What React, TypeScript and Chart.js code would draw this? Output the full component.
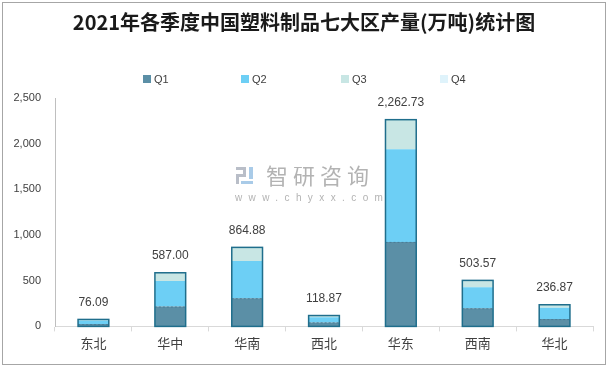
import React, { useEffect, useRef } from "react";
import { Chart, registerables } from "chart.js";

Chart.register(...registerables);

const TITLE = "2021年各季度中国塑料制品七大区产量(万吨)统计图";
const regions = ["东北", "华中", "华南", "西北", "华东", "西南", "华北"];
const totals = [76.09, 587.0, 864.88, 118.87, 2262.73, 503.57, 236.87];
const q1 = [25, 217, 308, 44, 925, 198, 80];
const q2 = [40, 279, 408, 55, 1013, 231, 125];
const q3 = [11.09, 91.0, 148.88, 19.87, 324.73, 74.57, 31.87];
const q4 = [0, 0, 0, 0, 0, 0, 0];
const yTicks = [0, 500, 1000, 1500, 2000, 2500];

const COLORS = ["#5b8fa6", "#6dcff5", "#c8e6e4", "#dff3fb"];
const SERIES = ["Q1", "Q2", "Q3", "Q4"];
const BORDER = "#1f6e8c";
const NUM_FONT = '"Liberation Sans", "Noto Sans CJK SC", sans-serif';
const CJK_FONT = '"Noto Sans CJK SC", sans-serif';

const fmt = (v: number) =>
  v.toLocaleString("en-US", { minimumFractionDigits: 2, maximumFractionDigits: 2 });

const decorPlugin = {
  id: "decor",
  beforeDraw(chart: any) {
    const ctx = chart.ctx;
    ctx.save();
    ctx.fillStyle = "#ffffff";
    ctx.fillRect(0, 0, chart.width, chart.height);
    ctx.strokeStyle = "#a6a6a6";
    ctx.lineWidth = 1;
    ctx.strokeRect(2.5, 2.5, 603, 362);
    // title
    ctx.fillStyle = "#1a1a1a";
    ctx.font = `bold 20px ${CJK_FONT}`;
    ctx.textAlign = "center";
    ctx.textBaseline = "middle";
    ctx.fillText(TITLE, 304, 22);
    // legend
    const xs = [143, 241, 341, 440];
    ctx.font = `11px ${NUM_FONT}`;
    ctx.textAlign = "left";
    SERIES.forEach((s, i) => {
      ctx.fillStyle = COLORS[i];
      ctx.fillRect(xs[i], 75, 8, 8);
      ctx.fillStyle = "#404040";
      ctx.fillText(s, xs[i] + 11, 79.5);
    });
    ctx.restore();
  },
  beforeDatasetsDraw(chart: any) {
    const ctx = chart.ctx;
    ctx.save();
    // watermark logo
    ctx.fillStyle = "#b9bec8";
    ctx.fillRect(236, 167, 10, 3);
    ctx.fillRect(243, 167, 3, 9);
    ctx.fillRect(236, 174, 10, 3);
    ctx.fillRect(236, 174, 3, 10);
    ctx.fillStyle = "#a9cbe8";
    ctx.fillRect(249, 167, 4, 12);
    ctx.fillRect(241, 181, 12, 3);
    // watermark text
    ctx.fillStyle = "#b3b3b3";
    ctx.font = `22px ${CJK_FONT}`;
    ctx.textAlign = "left";
    ctx.textBaseline = "middle";
    (ctx as any).letterSpacing = "5px";
    ctx.fillText("智研咨询", 266, 176);
    ctx.font = `10px ${NUM_FONT}`;
    (ctx as any).letterSpacing = "6.4px";
    ctx.fillText("www.chyxx.com", 235, 198);
    (ctx as any).letterSpacing = "0px";
    ctx.restore();
  },
  afterDatasetsDraw(chart: any) {
    const ctx = chart.ctx;
    const m0 = chart.getDatasetMeta(0);
    const m2 = chart.getDatasetMeta(2);
    ctx.save();
    ctx.strokeStyle = BORDER;
    ctx.lineWidth = 1.5;
    ctx.font = `12px ${NUM_FONT}`;
    ctx.textAlign = "center";
    ctx.textBaseline = "middle";
    regions.forEach((_, i) => {
      const b0 = m0.data[i];
      const b2 = m2.data[i];
      const left = b0.x - b0.width / 2;
      const top = b2.y;
      const bottom = b0.base;
      // dashed divider at Q1 top
      ctx.save();
      ctx.setLineDash([2, 2]);
      ctx.lineWidth = 1;
      ctx.strokeStyle = "#4a7d96";
      ctx.beginPath();
      ctx.moveTo(left, b0.y + 0.5);
      ctx.lineTo(left + b0.width, b0.y + 0.5);
      ctx.stroke();
      ctx.restore();
      ctx.strokeRect(left, top, b0.width, bottom - top);
      ctx.fillStyle = "#404040";
      ctx.fillText(fmt(totals[i]), b0.x, top - 17);
    });
    ctx.restore();
  },
};

export default function App() {
  const ref = useRef<HTMLCanvasElement | null>(null);
  useEffect(() => {
    document.body.style.margin = "0";
    const canvas = ref.current!;
    const chart = new Chart(canvas, {
      type: "bar",
      data: {
        labels: regions,
        datasets: [q1, q2, q3, q4].map((d, i) => ({
          label: SERIES[i],
          data: d,
          backgroundColor: COLORS[i],
          borderWidth: 0,
          barPercentage: 0.4,
          categoryPercentage: 1,
        })),
      },
      options: {
        responsive: false,
        animation: false,
        devicePixelRatio: 1,
        layout: { padding: { top: 98, right: 18, bottom: 15, left: 0 } },
        plugins: {
          legend: { display: false },
          title: { display: false },
          tooltip: { enabled: false },
        },
        scales: {
          x: {
            stacked: true,
            grid: {
              display: true,
              drawOnChartArea: false,
              drawTicks: true,
              tickLength: 5,
              color: "#d9d9d9",
              offset: true,
            },
            border: { display: true, color: "#d9d9d9", width: 1 },
            ticks: {
              font: { size: 13, family: CJK_FONT },
              color: "#404040",
              padding: 4,
            },
          },
          y: {
            stacked: true,
            min: 0,
            max: 2500,
            afterFit: (s: any) => {
              s.width = 55;
            },
            afterBuildTicks: (s: any) => {
              s.ticks = yTicks.map((v) => ({ value: v }));
            },
            grid: { display: false, drawTicks: false },
            border: { display: true, color: "#bfbfbf", width: 1 },
            ticks: {
              font: { size: 11, family: NUM_FONT },
              color: "#404040",
              padding: 14,
              callback: (v: any) => Number(v).toLocaleString("en-US"),
            },
          },
        },
      },
      plugins: [decorPlugin],
    });
    return () => chart.destroy();
  }, []);
  return (
    <div style={{ width: 611, height: 370 }}>
      <canvas ref={ref} width={611} height={370} style={{ display: "block" }} />
    </div>
  );
}
